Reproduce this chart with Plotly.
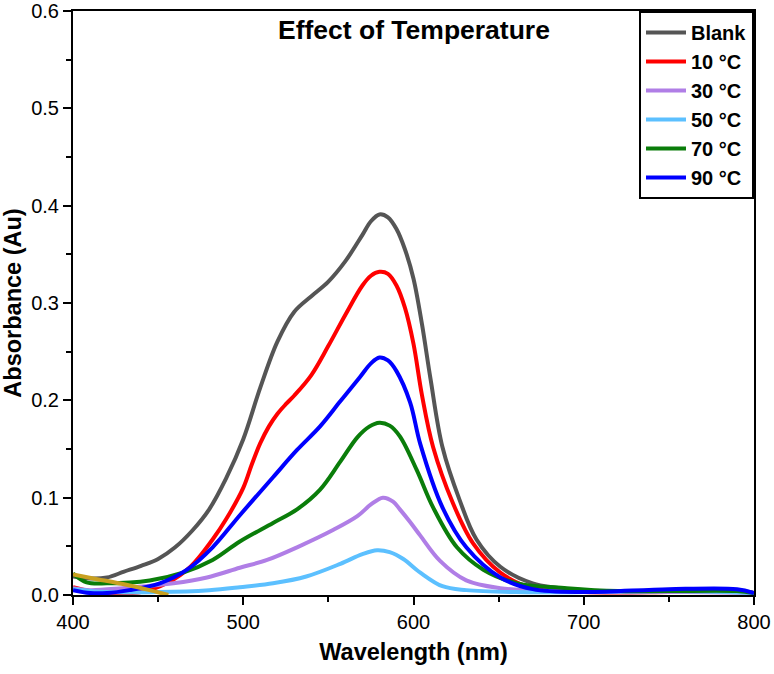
import plotly.graph_objects as go

# ---- data ----
blank_x = [400, 410, 420, 430, 440, 450, 460, 470, 480, 490, 500, 510, 520, 530, 540, 550, 560, 570, 575, 580, 585, 590, 595, 600, 605, 610, 617, 627, 637, 651, 670, 700, 730, 750, 770, 790, 800]
blank_y = [0.019, 0.017, 0.018, 0.024, 0.030, 0.037, 0.049, 0.066, 0.088, 0.120, 0.160, 0.213, 0.260, 0.291, 0.307, 0.322, 0.343, 0.370, 0.384, 0.391, 0.388, 0.376, 0.355, 0.325, 0.278, 0.222, 0.152, 0.098, 0.057, 0.029, 0.012, 0.005, 0.004, 0.005, 0.004, 0.005, 0.002]

t10_x = [400, 410, 420, 430, 440, 455, 469, 482, 490, 500, 505, 510, 515, 520, 525, 530, 540, 550, 560, 570, 575, 580, 585, 590, 595, 600, 605, 611.5, 623, 635, 651, 670, 700, 750, 790, 800]
t10_y = [0.008, 0.004, 0.002, 0.002, 0.003, 0.012, 0.029, 0.057, 0.078, 0.110, 0.134, 0.156, 0.173, 0.186, 0.196, 0.205, 0.226, 0.256, 0.288, 0.318, 0.328, 0.332, 0.330, 0.318, 0.295, 0.258, 0.205, 0.152, 0.095, 0.053, 0.023, 0.007, 0.003, 0.003, 0.004, 0.002]

t30_x = [400, 410, 429, 459, 478.7, 498, 514, 531.6, 553, 567, 575, 582, 588, 592, 598, 604, 615.6, 631, 651, 680, 720, 760, 800]
t30_y = [0.007, 0.005, 0.007, 0.012, 0.018, 0.028, 0.036, 0.049, 0.067, 0.081, 0.093, 0.100, 0.096, 0.088, 0.075, 0.061, 0.035, 0.015, 0.007, 0.004, 0.003, 0.003, 0.002]

t50_x = [400, 420, 450, 480, 498, 517.5, 537, 557, 570, 578.6, 586, 594, 604, 617, 631, 660, 700, 750, 800]
t50_y = [0.006, 0.003, 0.003, 0.005, 0.008, 0.012, 0.019, 0.032, 0.042, 0.046, 0.044, 0.037, 0.023, 0.009, 0.005, 0.003, 0.003, 0.004, 0.002]

t70_x = [400, 408, 420, 445, 464.6, 482, 498, 517.5, 531.6, 545, 557, 567, 574, 580, 586, 592, 602, 611.5, 625.5, 641, 661, 690, 720, 750, 790, 800]
t70_y = [0.022, 0.013, 0.012, 0.015, 0.023, 0.036, 0.055, 0.074, 0.088, 0.108, 0.137, 0.162, 0.173, 0.177, 0.174, 0.163, 0.128, 0.090, 0.049, 0.026, 0.012, 0.007, 0.004, 0.004, 0.004, 0.002]

t90_x = [400, 410, 420, 433, 451, 467, 482, 498, 517.5, 531.6, 545, 557, 568.6, 575, 580, 585, 590, 598, 604, 617, 631, 651, 670, 700, 750, 790, 800]
t90_y = [0.005, 0.002, 0.002, 0.005, 0.012, 0.026, 0.049, 0.082, 0.121, 0.149, 0.173, 0.199, 0.224, 0.238, 0.244, 0.241, 0.230, 0.198, 0.155, 0.090, 0.049, 0.018, 0.006, 0.003, 0.006, 0.006, 0.002]

extra_x = [400, 415, 430, 445, 456]
extra_y = [0.021, 0.016, 0.011, 0.005, 0.0]

names = ["Blank", "10 °C", "30 °C", "50 °C", "70 °C", "90 °C"]
colors = ["#555555", "#ff0000", "#b07ee6", "#5cc0ff", "#0a7d0a", "#0000ff"]
series = [(blank_x, blank_y), (t10_x, t10_y), (t30_x, t30_y), (t50_x, t50_y), (t70_x, t70_y), (t90_x, t90_y)]

FONT = "Liberation Sans, Arial, sans-serif"

fig = go.Figure()
for i, ((xs, ys), nm, c) in enumerate(zip(series, names, colors)):
    fig.add_trace(go.Scatter(x=xs, y=ys, name=f"<b>{nm}</b>", mode="lines",
                             line=dict(color=c, width=4, shape="spline", smoothing=1.0),
                             legendgroup=f"g{i}"))
fig.add_trace(go.Scatter(x=extra_x, y=extra_y, mode="lines", showlegend=False,
                         line=dict(color="#c8a020", width=4, shape="spline", smoothing=0.6)))

axis_common = dict(showgrid=False, zeroline=False, showline=True, linecolor="black", linewidth=2,
                   mirror=True, ticks="outside", ticklen=8, tickwidth=2, tickcolor="black",
                   automargin=False,
                   tickfont=dict(family=FONT, size=20, color="black"))

fig.update_layout(
    width=774, height=674,
    margin=dict(l=73, r=20, t=11, b=79),
    paper_bgcolor="white", plot_bgcolor="white",
    font=dict(family=FONT, color="black"),
    xaxis=dict(range=[400, 800], dtick=100, tick0=400,
               minor=dict(ticks="outside", ticklen=5, tickwidth=2, dtick=50, tickcolor="black"),
               title=dict(text="<b>Wavelength (nm)</b>", font=dict(family=FONT, size=23.5), standoff=12),
               **axis_common),
    yaxis=dict(range=[0, 0.6], dtick=0.1, tick0=0, tickformat=".1f",
               minor=dict(ticks="outside", ticklen=5, tickwidth=2, dtick=0.05, tickcolor="black"),
               title=dict(text="<b>Absorbance (Au)</b>", font=dict(family=FONT, size=23.5), standoff=8),
               **axis_common),
    legend=dict(x=1, y=1, xanchor="right", yanchor="top", bordercolor="black", borderwidth=2,
                bgcolor="white", font=dict(family=FONT, size=20, color="black"),
                traceorder="grouped", tracegroupgap=0, itemwidth=40),
    showlegend=True,
    annotations=[dict(text="<b>Effect of Temperature</b>", x=0.5, y=0.997, xref="paper", yref="paper",
                      xanchor="center", yanchor="top", showarrow=False,
                      font=dict(family=FONT, size=26.5, color="black"))],
)

fig.write_html("out.html")
